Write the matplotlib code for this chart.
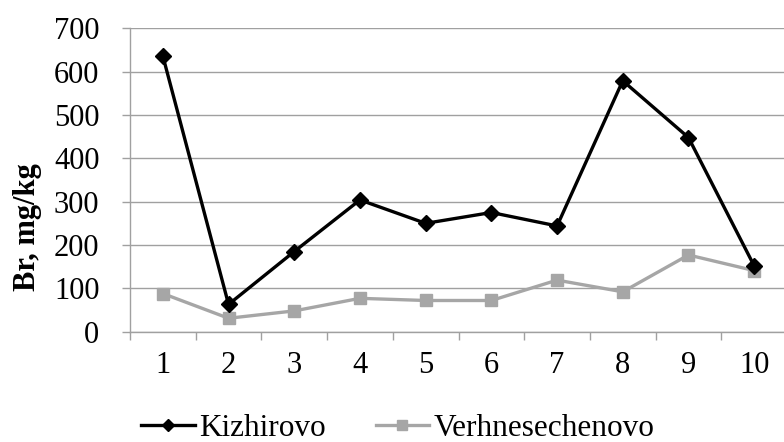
import matplotlib
matplotlib.use("Agg")
import matplotlib.pyplot as plt
import numpy as np

categories = ["1", "2", "3", "4", "5", "6", "7", "8", "9", "10"]
kizhirovo = [636, 63, 185, 304, 250, 275, 244, 579, 448, 152]
verhnesechenovo = [88, 31, 48, 77, 72, 72, 119, 92, 177, 141]
yticks = [0, 100, 200, 300, 400, 500, 600, 700]

plt.rcParams['font.family'] = ['Liberation Serif', 'DejaVu Serif']

fig = plt.figure(figsize=(7.84, 4.42), dpi=100)
W, H = 784, 442
left, right, top, bottom = 130, 787, 28.3, 331.7
ax = fig.add_axes([left / W, (H - bottom) / H, (right - left) / W, (bottom - top) / H])

x = np.arange(len(categories))
grid_c = '#A0A0A0'
ax.plot(x, kizhirovo, color='black', lw=2.4, marker='D', ms=8, label='Kizhirovo', zorder=3)
ax.plot(x, verhnesechenovo, color='#A6A6A6', lw=2.4, marker='s', ms=8.5, label='Verhnesechenovo', zorder=2)

ax.set_xlim(-0.5, len(categories) - 0.5)
ax.set_ylim(0, 700)
ax.set_yticks(yticks)
ax.set_yticklabels([str(v) for v in yticks])
ax.yaxis.grid(True, color=grid_c, lw=1)
ax.set_axisbelow(True)

ax.set_xticks(x)
ax.set_xticklabels(categories)
ax.set_xticks(np.arange(-0.5, len(categories)), minor=True)
ax.tick_params(axis='x', which='major', length=0, pad=14, labelsize=22)
ax.tick_params(axis='x', which='minor', length=6, color=grid_c, width=1)
ax.tick_params(axis='y', length=6, color=grid_c, width=1, pad=16, labelsize=22)

for s in ['top', 'right']:
    ax.spines[s].set_visible(False)
for s in ['left', 'bottom']:
    ax.spines[s].set_color(grid_c)
    ax.spines[s].set_linewidth(1)

fig.text(28 / W, (H - 227) / H, 'Br, mg/kg', rotation=90, ha='center', va='center',
         fontsize=22, fontweight='bold')

fig.legend(loc='center', bbox_to_anchor=(398 / W, (H - 428) / H), ncol=2, frameon=False,
           fontsize=22.5, handlelength=1.7, handletextpad=0.15, columnspacing=1.6,
           borderpad=0, borderaxespad=0, markerscale=0.8)

fig.savefig('out.png', dpi=100)
